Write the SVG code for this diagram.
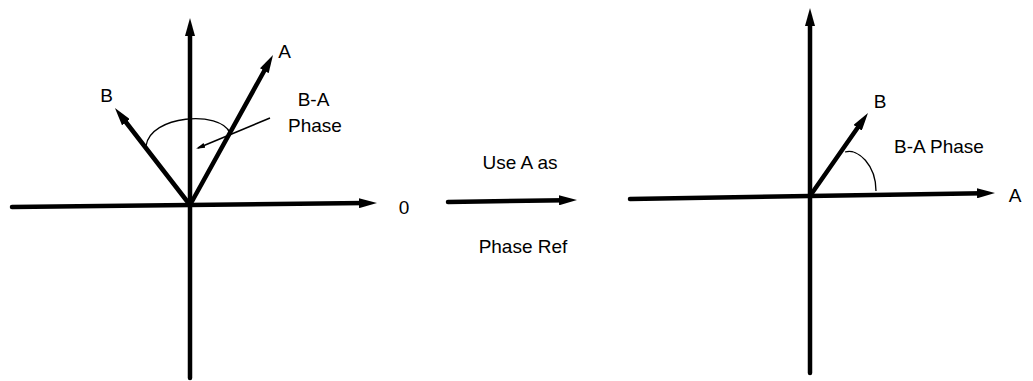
<svg xmlns="http://www.w3.org/2000/svg" width="1033" height="381" viewBox="0 0 1033 381">
  <style>
    .thick { stroke: #000; stroke-width: 4.5; fill: none; stroke-linecap: round; marker-end: url(#big); }
    .arc { stroke: #000; stroke-width: 1.3; fill: none; }
    .leader { stroke: #000; stroke-width: 1.5; fill: none; marker-end: url(#small); }
    text { font-family: "Liberation Sans", Arial, sans-serif; font-size: 19px; fill: #000; text-anchor: middle; }
  </style>
  <defs>
    <marker id="big" viewBox="0 0 18 10" markerWidth="18" markerHeight="10" markerUnits="userSpaceOnUse" refX="6" refY="5" orient="auto">
      <path d="M0,0 L18,5 L0,10 z" fill="#000"/>
    </marker>
    <marker id="small" viewBox="0 0 9 5" markerWidth="9" markerHeight="5" markerUnits="userSpaceOnUse" refX="7" refY="2.5" orient="auto">
      <path d="M0,0 L9,2.5 L0,5 z" fill="#000"/>
    </marker>
  </defs>
  <rect width="1033" height="381" fill="#fff"/>

  <g id="connectors">
    <!-- left diagram -->
    <line class="thick" x1="190" y1="378" x2="190" y2="30"/>
    <line class="thick" x1="12" y1="207" x2="365" y2="203.1"/>
    <line class="thick" x1="190" y1="205" x2="267.2" y2="65.5"/>
    <line class="thick" x1="190" y1="205" x2="122.3" y2="117.5"/>
    <path class="arc" d="M146,146 C150,115 220,110 230,133"/>
    <line class="leader" x1="270" y1="118" x2="198" y2="148"/>
    <!-- middle -->
    <line class="thick" x1="448" y1="202" x2="565" y2="200.2"/>
    <!-- right diagram -->
    <line class="thick" x1="810" y1="373" x2="810" y2="20"/>
    <line class="thick" x1="630" y1="199" x2="983" y2="193.2"/>
    <line class="thick" x1="810" y1="196" x2="861.1" y2="122.8"/>
    <path class="arc" d="M845,152 C858,148 876,165 876,191"/>
  </g>

  <g id="left-labels">
    <g id="label-A-left"><text x="284.5" y="58">A</text></g>
    <g id="label-B-left"><text x="106.5" y="102">B</text></g>
    <g id="label-phase-left"><text x="313.5" y="106">B-A</text><text x="315" y="132">Phase</text></g>
    <g id="label-zero"><text x="404" y="214">0</text></g>
  </g>

  <g id="middle-labels">
    <g id="label-use"><text x="520" y="169">Use A as</text></g>
    <g id="label-ref"><text x="523" y="253">Phase Ref</text></g>
  </g>

  <g id="right-labels">
    <g id="label-B-right"><text x="880" y="108">B</text></g>
    <g id="label-phase-right"><text x="939" y="153">B-A Phase</text></g>
    <g id="label-A-right"><text x="1015" y="202">A</text></g>
  </g>
</svg>
